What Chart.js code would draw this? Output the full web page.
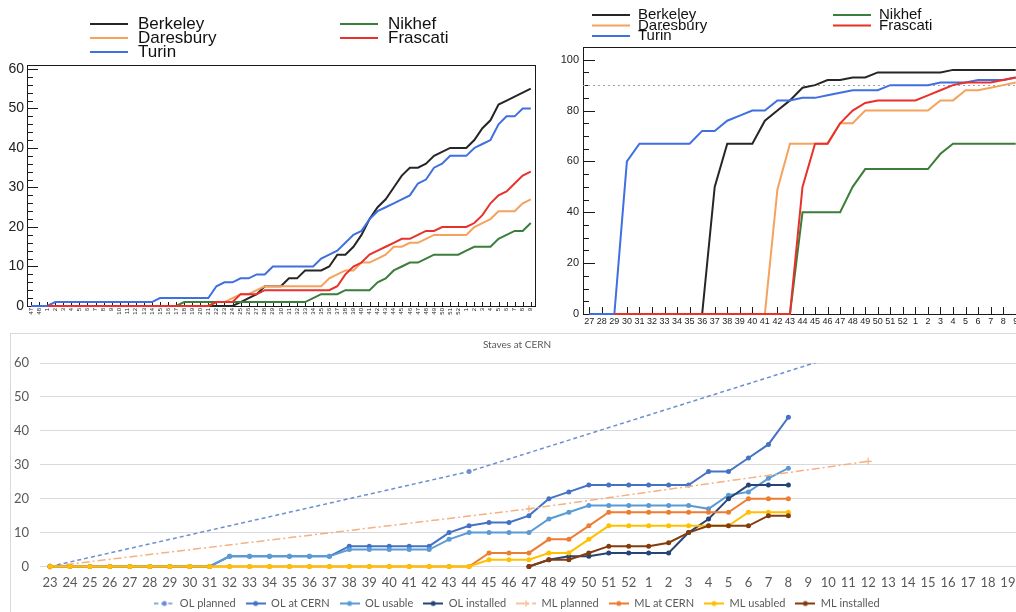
<!DOCTYPE html>
<html>
<head>
<meta charset="utf-8">
<title>Stave production</title>
<script src="https://cdn.jsdelivr.net/npm/chart.js@4.4.1/dist/chart.umd.min.js"></script>
<style>
  html, body { margin: 0; padding: 0; background: #fff; }
  body { width: 1016px; height: 612px; overflow: hidden; position: relative; }
  canvas, .frame { position: absolute; }
  #cumul { left: 0; top: 0; }
  #percent { left: 537px; top: 0; }
  #staves { left: 10px; top: 333px; }
  .frame { left: 10px; top: 333px; width: 1010px; height: 290px; border-left: 1px solid #d9d9d9; border-top: 1px solid #d9d9d9; }
</style>
</head>
<body>
<canvas id="cumul" width="540" height="330"></canvas>
<canvas id="percent" width="490" height="330"></canvas>
<div class="frame"></div>
<canvas id="staves" width="1014" height="286"></canvas>
<script>
/* Top left: cumulative staves per site, by week */
const weeksA = [47,48,1,2,3,4,5,6,7,8,9,10,11,12,13,14,15,16,17,18,19,20,21,22,23,24,25,26,
  27,28,29,30,31,32,33,34,35,36,37,38,39,40,41,42,43,44,45,46,47,48,49,50,51,52,1,2,3,4,5,6,7,8,9];
const berkeleyA = [null,null,0,0,0,0,0,0,0,0,0,0,0,0,0,0,0,0,0,0,0,0,0,0,0,0,
  1,2,3,5,5,5,7,7,9,9,9,10,13,13,15,18,22,25,27,30,33,35,35,36,38,39,40,40,40,42,45,47,51,52,53,54,55];
const daresburyA = [null,null,0,0,0,0,0,0,0,0,0,0,0,0,0,0,0,0,0,0,0,0,0,
  1,1,2,3,3,4,5,5,5,5,5,5,5,5,7,8,9,9,11,11,12,13,15,15,16,16,17,18,18,18,18,18,20,21,22,24,24,24,26,27];
const turinA = [0,0,0,1,1,1,1,1,1,1,1,1,1,1,1,1,2,2,2,2,2,2,2,5,6,6,7,7,8,8,10,10,10,10,10,10,
  12,13,14,16,18,19,22,24,25,26,27,28,31,32,35,36,38,38,38,40,41,42,46,48,48,50,50];
const nikhefA = [null,null,0,0,0,0,0,0,0,0,0,0,0,0,0,0,0,0,0,1,1,1,1,1,1,1,1,1,1,1,1,1,1,1,1,
  2,3,3,3,4,4,4,4,6,7,9,10,11,11,12,13,13,13,13,14,15,15,15,17,18,19,19,21];
const frascatiA = [null,null,0,0,0,0,0,0,0,0,0,0,0,0,0,0,0,0,0,0,0,0,0,
  1,1,1,3,3,3,4,4,4,4,4,4,4,4,4,5,8,10,11,13,14,15,16,17,17,18,19,19,20,20,20,20,21,23,26,28,29,31,33,34];

/* Top right: percentage done per site */
const weeksB = [27,28,29,30,31,32,33,34,35,36,37,38,39,40,41,42,43,44,45,46,47,48,49,50,51,52,1,2,3,4,5,6,7,8,9];
const berkeleyB = [null,null,0,0,0,0,0,0,0,0,50,67,67,67,76,80,84,89,90,92,92,93,93,95,95,95,95,95,95,96,96,96,96,96,96];
const daresburyB = [null,null,0,0,0,0,0,0,0,0,0,0,0,0,0,49,67,67,67,67,75,75,80,80,80,80,80,80,84,84,88,88,89,90,91];
const turinB = [0,0,0,60,67,67,67,67,67,72,72,76,78,80,80,84,84,85,85,86,87,88,88,88,90,90,90,90,91,91,91,92,92,92,93];
const nikhefB = [null,null,0,0,0,0,0,0,0,0,0,0,0,0,0,0,0,40,40,40,40,50,57,57,57,57,57,57,63,67,67,67,67,67,67];
const frascatiB = [null,null,0,0,0,0,0,0,0,0,0,0,0,0,0,0,0,50,67,67,75,80,83,84,84,84,84,86,88,90,91,91,91,92,93];
const targetB = 90;

/* Bottom: staves at CERN */
const weeksC = [23,24,25,26,27,28,29,30,31,32,33,34,35,36,37,38,39,40,41,42,43,44,45,46,47,48,49,50,51,52,
  1,2,3,4,5,6,7,8,9,10,11,12,13,14,15,16,17,18,19];
const olPlanned = [0,null,null,null,null,null,null,null,null,null,null,null,null,null,null,null,null,null,null,null,null,
  28,null,null,null,null,null,null,null,null,null,null,null,null,null,null,null,null,null,null,null,
  65,null,null,null,null,null,null,null];
const olAtCern = [0,0,0,0,0,0,0,0,0,3,3,3,3,3,3,6,6,6,6,6,
  10,12,13,13,15,20,22,24,24,24,24,24,24,28,28,32,36,44,
  null,null,null,null,null,null,null,null,null,null,null];
const olUsable = [0,0,0,0,0,0,0,0,0,3,3,3,3,3,3,5,5,5,5,5,
  8,10,10,10,10,14,16,18,18,18,18,18,18,17,21,22,26,29,
  null,null,null,null,null,null,null,null,null,null,null];
const olInstalled = [null,null,null,null,null,null,null,null,null,null,null,null,null,null,null,null,null,null,null,null,null,null,null,null,
  0,2,3,3,4,4,4,4,10,14,20,24,24,24,
  null,null,null,null,null,null,null,null,null,null,null];
const mlPlanned = [0,null,null,null,null,null,null,null,null,null,null,null,null,null,null,null,null,null,null,null,null,null,null,null,
  17,null,null,null,null,null,null,null,null,null,null,null,null,null,null,null,null,
  31,null,null,null,null,null,null,null];
const mlAtCern = [0,0,0,0,0,0,0,0,0,0,0,0,0,0,0,0,0,0,0,0,0,0,
  4,4,4,8,8,12,16,16,16,16,16,16,16,20,20,20,
  null,null,null,null,null,null,null,null,null,null,null];
const mlUsabled = [0,0,0,0,0,0,0,0,0,0,0,0,0,0,0,0,0,0,0,0,0,0,
  2,2,2,4,4,8,12,12,12,12,12,12,12,16,16,16,
  null,null,null,null,null,null,null,null,null,null,null];
const mlInstalled = [null,null,null,null,null,null,null,null,null,null,null,null,null,null,null,null,null,null,null,null,null,null,null,null,
  0,2,2,4,6,6,6,7,10,12,12,12,15,15,
  null,null,null,null,null,null,null,null,null,null,null];

const siteColors = {
  berkeley: '#262626',
  daresbury: '#f5a25d',
  turin: '#3f6fe0',
  nikhef: '#3b7d3b',
  frascati: '#e8312b'
};

Chart.defaults.font.family = '"Liberation Sans", Arial, sans-serif';

// ROOT style box with inward ticks (and optional dotted target line)
function rootFrame(cfg) {
  return {
    id: 'rootFrame',
    beforeDatasetsDraw(chart) {
      const { ctx, chartArea: a, scales: { x, y } } = chart;
      ctx.save();
      ctx.strokeStyle = '#1a1a1a';
      ctx.lineWidth = 1;
      ctx.strokeRect(Math.round(a.left) + 0.5, Math.round(a.top) + 0.5,
        Math.round(a.right - a.left), Math.round(a.bottom - a.top));
      ctx.beginPath();
      for (let v = 0; v <= y.max; v += cfg.minor) {
        const py = Math.round(y.getPixelForValue(v)) + 0.5;
        const len = v % cfg.major === 0 ? cfg.majorLen : cfg.minorLen;
        ctx.moveTo(a.left, py);
        ctx.lineTo(a.left + len, py);
      }
      for (let i = 0; i < x.ticks.length; i++) {
        const px = Math.round(x.getPixelForTick(i)) + 0.5;
        ctx.moveTo(px, a.bottom);
        ctx.lineTo(px, a.bottom - cfg.xTickLen);
      }
      ctx.stroke();
      if (cfg.refLine !== undefined) {
        const py = Math.round(y.getPixelForValue(cfg.refLine)) + 0.5;
        ctx.strokeStyle = '#a0a0a0';
        ctx.setLineDash([2, 3]);
        ctx.beginPath();
        ctx.moveTo(a.left, py);
        ctx.lineTo(a.right, py);
        ctx.stroke();
      }
      ctx.restore();
    }
  };
}

// two column legend like a TLegend
function rootLegend(cfg) {
  return {
    id: 'rootLegend',
    afterDraw(chart) {
      const ctx = chart.ctx;
      ctx.save();
      ctx.font = cfg.textFont;
      ctx.fillStyle = '#111';
      ctx.textBaseline = 'alphabetic';
      cfg.columns.forEach(col => {
        col.items.forEach((di, row) => {
          const ds = chart.data.datasets[di];
          const yy = cfg.top + row * cfg.rowGap;
          ctx.strokeStyle = ds.borderColor;
          ctx.lineWidth = 2;
          ctx.beginPath();
          ctx.moveTo(col.x, yy);
          ctx.lineTo(col.x + cfg.lineLen, yy);
          ctx.stroke();
          ctx.fillText(ds.label, col.x + cfg.lineLen + cfg.textGap, yy + cfg.baseShift);
        });
      });
      ctx.restore();
    }
  };
}

const siteSet = (label, data, color, order) => ({
  label, data, borderColor: color, backgroundColor: color,
  borderWidth: 2, pointRadius: 0, tension: 0, order, clip: 4
});

function rootScales(xFont, xRot, xHeight, yMax, yStep, yFont, yWidth, yPad) {
  return {
    x: {
      offset: true,
      grid: { display: false, drawTicks: false },
      border: { display: false },
      ticks: { autoSkip: false, minRotation: xRot, maxRotation: xRot, padding: 2, color: '#222', font: { size: xFont } },
      afterFit: s => { s.height = xHeight; }
    },
    y: {
      min: 0, max: yMax,
      grid: { display: false, drawTicks: false },
      border: { display: false },
      ticks: { stepSize: yStep, includeBounds: false, padding: yPad, color: '#222', font: { size: yFont } },
      afterFit: s => { s.width = yWidth; }
    }
  };
}

// Chart 1
new Chart(document.getElementById('cumul'), {
  type: 'line',
  data: {
    labels: weeksA,
    datasets: [
      siteSet('Berkeley', berkeleyA, siteColors.berkeley, 5),
      siteSet('Daresbury', daresburyA, siteColors.daresbury, 4),
      siteSet('Turin', turinA, siteColors.turin, 3),
      siteSet('Nikhef', nikhefA, siteColors.nikhef, 2),
      siteSet('Frascati', frascatiA, siteColors.frascati, 1)
    ]
  },
  options: {
    responsive: false, animation: false, devicePixelRatio: 1,
    layout: { padding: { top: 65, right: 5, left: 0, bottom: 0 } },
    plugins: { legend: { display: false }, tooltip: { enabled: false } },
    scales: rootScales(6, 90, 24, 61, 10, 14, 27, 3)
  },
  plugins: [
    rootFrame({ major: 10, minor: 2, majorLen: 11, minorLen: 6, xTickLen: 4 }),
    rootLegend({ textFont: '17px "Liberation Sans", Arial, sans-serif', top: 24, rowGap: 14, lineLen: 38, textGap: 10, baseShift: 5,
      columns: [{ x: 90, items: [0, 1, 2] }, { x: 340, items: [3, 4] }] })
  ]
});

// Chart 2
new Chart(document.getElementById('percent'), {
  type: 'line',
  data: {
    labels: weeksB,
    datasets: [
      siteSet('Berkeley', berkeleyB, siteColors.berkeley, 5),
      siteSet('Daresbury', daresburyB, siteColors.daresbury, 4),
      siteSet('Turin', turinB, siteColors.turin, 3),
      siteSet('Nikhef', nikhefB, siteColors.nikhef, 2),
      siteSet('Frascati', frascatiB, siteColors.frascati, 1)
    ]
  },
  options: {
    responsive: false, animation: false, devicePixelRatio: 1,
    layout: { padding: { top: 47, right: 5, left: 0, bottom: 0 } },
    plugins: { legend: { display: false }, tooltip: { enabled: false } },
    scales: rootScales(9, 0, 16, 105, 20, 11, 46, 4)
  },
  plugins: [
    rootFrame({ major: 20, minor: 5, majorLen: 12, minorLen: 6, xTickLen: 7, refLine: targetB }),
    rootLegend({ textFont: '15px "Liberation Sans", Arial, sans-serif', top: 15, rowGap: 10.5, lineLen: 38, textGap: 8, baseShift: 4,
      columns: [{ x: 55, items: [0, 1, 2] }, { x: 296, items: [3, 4] }] })
  ]
});

// Chart 3, Excel look
const excel = {
  olPlanned: '#6d8fd0', olAtCern: '#4472c4', olUsable: '#5b9bd5', olInstalled: '#264478',
  mlPlanned: '#f4b183', mlAtCern: '#ed7d31', mlUsabled: '#ffc000', mlInstalled: '#843c0c'
};

function makeIcon(color, dash, marker) {
  const c = document.createElement('canvas');
  c.width = 20; c.height = 10;
  const g = c.getContext('2d');
  g.strokeStyle = color;
  g.fillStyle = color;
  g.lineWidth = dash.length ? 1.5 : 2;
  g.setLineDash(dash);
  g.beginPath(); g.moveTo(0, 5); g.lineTo(20, 5); g.stroke();
  g.setLineDash([]);
  if (marker === 'cross') {
    g.lineWidth = 1.2;
    g.beginPath(); g.moveTo(10, 2); g.lineTo(10, 8); g.moveTo(7, 5); g.lineTo(13, 5); g.stroke();
  } else {
    g.beginPath(); g.arc(10, 5, 2.5, 0, Math.PI * 2); g.fill();
  }
  return c;
}

const stavesClip = { left: 6, right: 6, top: 0, bottom: 6 };
const plannedSet = (label, data, color, dash, marker, order) => ({
  label, data, borderColor: color, backgroundColor: color, borderWidth: 1.5, borderDash: dash,
  pointStyle: marker === 'cross' ? 'cross' : 'circle', pointRadius: marker === 'cross' ? 3.5 : 2.5,
  pointBorderWidth: marker === 'cross' ? 1.2 : 0, pointBackgroundColor: color, pointBorderColor: color,
  spanGaps: true, tension: 0, order, clip: stavesClip, icon: makeIcon(color, dash, marker)
});
const actualSet = (label, data, color, order) => ({
  label, data, borderColor: color, backgroundColor: color, borderWidth: 2,
  pointRadius: 2.5, pointBorderWidth: 0, pointBackgroundColor: color,
  tension: 0, order, clip: stavesClip, icon: makeIcon(color, [], 'circle')
});

new Chart(document.getElementById('staves'), {
  type: 'line',
  data: {
    labels: weeksC,
    datasets: [
      plannedSet('OL planned', olPlanned, excel.olPlanned, [4, 3], 'circle', 8),
      actualSet('OL at CERN', olAtCern, excel.olAtCern, 7),
      actualSet('OL usable', olUsable, excel.olUsable, 6),
      actualSet('OL installed', olInstalled, excel.olInstalled, 5),
      plannedSet('ML planned', mlPlanned, excel.mlPlanned, [8, 3, 2, 3], 'cross', 4),
      actualSet('ML at CERN', mlAtCern, excel.mlAtCern, 3),
      actualSet('ML usabled', mlUsabled, excel.mlUsabled, 2),
      actualSet('ML installed', mlInstalled, excel.mlInstalled, 1)
    ]
  },
  options: {
    responsive: false, animation: false, devicePixelRatio: 1,
    layout: { padding: 0 },
    font: { family: 'Lato, "Open Sans", sans-serif' },
    plugins: {
      tooltip: { enabled: false },
      title: {
        display: true, text: 'Staves at CERN', color: '#595959',
        font: { size: 10, family: 'Lato, "Open Sans", sans-serif', weight: 'normal' },
        padding: { top: 6, bottom: 12 }
      },
      legend: {
        position: 'bottom',
        labels: {
          usePointStyle: true, pointStyleWidth: 20, padding: 10, color: '#595959',
          font: { size: 11, family: 'Lato, "Open Sans", sans-serif' },
          generateLabels: chart => chart.data.datasets.map((ds, i) => ({
            text: ds.label, pointStyle: ds.icon, fillStyle: ds.borderColor, strokeStyle: ds.borderColor,
            lineWidth: 0, hidden: false, datasetIndex: i, fontColor: '#595959'
          }))
        }
      }
    },
    scales: {
      x: {
        offset: true,
        grid: { display: false, drawTicks: false },
        border: { display: false },
        ticks: { autoSkip: false, maxRotation: 0, padding: 8.5, color: '#595959', font: { size: 13, family: 'Lato, "Open Sans", sans-serif' } },
        afterFit: s => { s.height = 21.5; }
      },
      y: {
        min: 0, max: 60,
        grid: { color: '#d9d9d9', drawTicks: false },
        border: { display: false },
        ticks: { stepSize: 10, padding: 11, color: '#595959', font: { size: 13, family: 'Lato, "Open Sans", sans-serif' } },
        afterFit: s => { s.width = 30; }
      }
    }
  }
});
</script>
</body>
</html>
